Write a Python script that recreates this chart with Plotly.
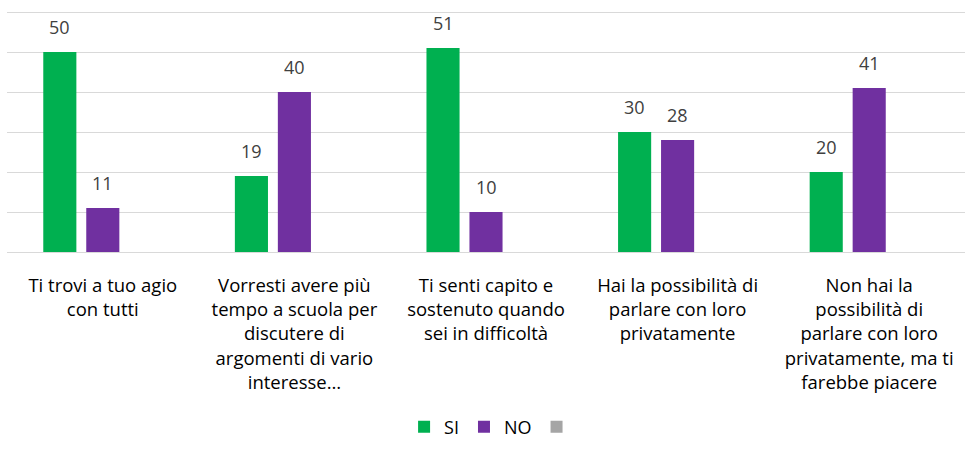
import plotly.graph_objects as go

categories = [
    "Ti trovi a tuo agio<br>con tutti",
    "Vorresti avere più<br>tempo a scuola per<br>discutere di<br>argomenti di vario<br>interesse…",
    "Ti senti capito e<br>sostenuto quando<br>sei in difficoltà",
    "Hai la possibilità di<br>parlare con loro<br>privatamente",
    "Non hai la<br>possibilità di<br>parlare con loro<br>privatamente, ma ti<br>farebbe piacere",
]
si_values = [50, 19, 51, 30, 20]
no_values = [11, 40, 10, 28, 41]
empty_values = [None, None, None, None, None]
series_names = ["SI", "NO", " "]
colors = ["#00B050", "#7030A0", "#A5A5A5"]

FONT = "Open Sans"
fig = go.Figure()
for name, vals, col in zip(series_names, [si_values, no_values, empty_values], colors):
    fig.add_trace(go.Bar(x=categories, y=vals, name=name, marker_color=col,
                         marker_line_width=0, hoverinfo="skip"))

W, H = 973, 463
L, R, T, B = 7, 8, 8, 211
cat_w = (W - L - R) / len(categories)
bargap = 0.327
slot = cat_w * (1 - bargap) / 3
for k, vals in enumerate([si_values, no_values]):
    for c, v in zip(categories, vals):
        fig.add_annotation(x=c, y=v, text=str(v), showarrow=False,
                           xshift=(k - 1) * slot, yanchor="bottom", yshift=11,
                           font=dict(family=FONT, size=18, color="#404040"))

fig.update_layout(
    width=W, height=H,
    margin=dict(l=L, r=R, t=T, b=B, autoexpand=False),
    barmode="group", bargap=bargap, bargroupgap=0.23,
    plot_bgcolor="white", paper_bgcolor="white",
    font=dict(family=FONT, size=18, color="#000000"),
    showlegend=True,
    legend=dict(orientation="h", x=0.51, xanchor="center", y=-0.717, yanchor="middle",
                font=dict(family=FONT, size=18, color="#000000"),
                itemwidth=30, traceorder="normal"),
)
fig.update_xaxes(showgrid=False, showline=True, linecolor="#D9D9D9", linewidth=1.3,
                 ticks="", tickfont=dict(family=FONT, size=18.5, color="#000000"),
                 tickangle=0, ticklabelstandoff=17, automargin=False)
fig.update_yaxes(range=[0, 61], tick0=0, dtick=10, showgrid=True, gridcolor="#D9D9D9",
                 gridwidth=1.3, showticklabels=False, zeroline=False, showline=False,
                 automargin=False)
fig.write_html("out.html", config={"displayModeBar": False},
               post_script="document.body.style.margin='0';")
